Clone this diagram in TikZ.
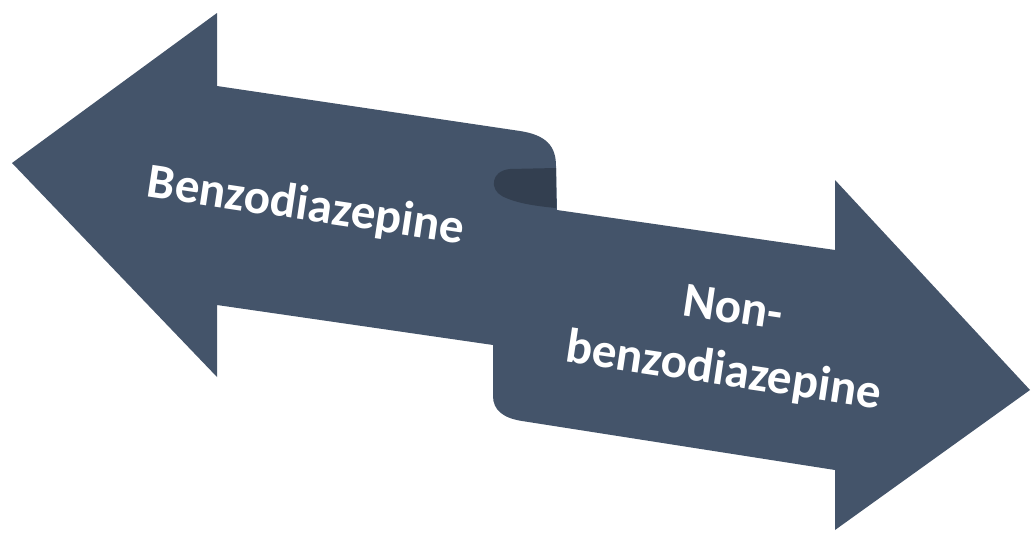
\documentclass[tikz,border=0pt]{standalone}
\usepackage{fontspec}
\setsansfont{Carlito}
\definecolor{slate}{HTML}{44546A}
\definecolor{slatedark}{HTML}{333F50}
\tikzset{
  label/.style={text=white, font=\sffamily\bfseries\fontsize{28}{36}\selectfont, align=center, rotate=-8.5}
}
\begin{document}
\begin{tikzpicture}[x=0.02cm, y=-0.02cm]
      \useasboundingbox (0,0) rectangle (1031,534);
      \fill[slate] (12,163) -- (217,13) -- (217,86) -- (520,131)
        .. controls (546,135) and (556,146) .. (556,166) -- (557,210)
        -- (835,250) -- (835,180) -- (1030,390) -- (835,530) -- (835,470)
        -- (522,421) .. controls (503,418) and (493,410) .. (493,396)
        -- (493,345) -- (217,305) -- (217,377) -- cycle;
      \fill[slatedark] (556,168) -- (510,169) .. controls (490,171) and (490,190) .. (502,196)
        .. controls (515,203) and (535,206) .. (556,208) -- cycle;
      \node[label] (benzo) at (306,207) {Benzodiazepine};
      \node[label] (nonbenzo) at (728,342) {Non-\\benzodiazepine};
    \end{tikzpicture}
\end{document}
